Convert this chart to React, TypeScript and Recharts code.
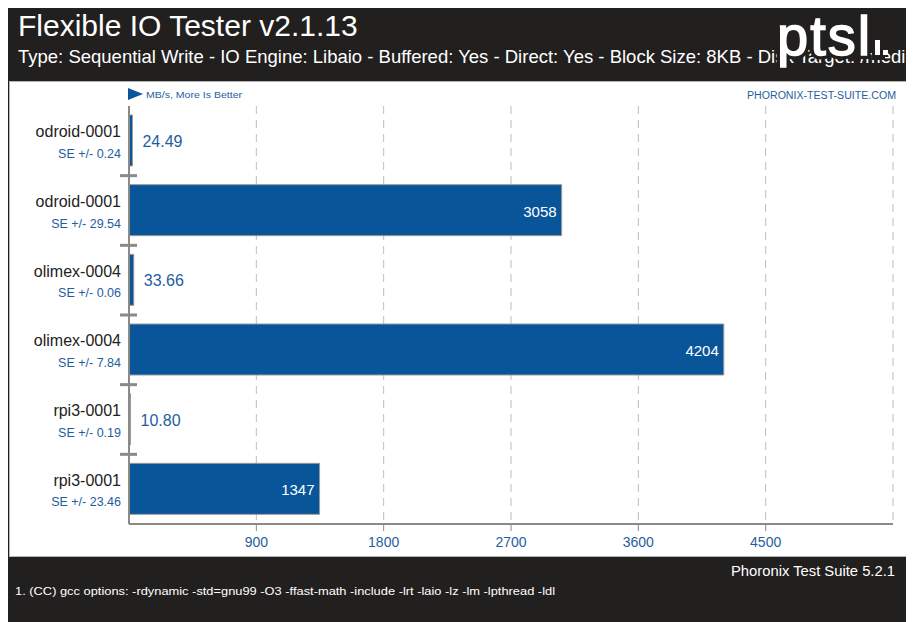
import { Bar, BarChart, CartesianGrid, LabelList, XAxis, YAxis } from "recharts"

const systems = ["odroid-0001", "odroid-0001", "olimex-0004", "olimex-0004", "rpi3-0001", "rpi3-0001"]
const results = [24.49, 3058, 33.66, 4204, 10.8, 1347]
const resultLabels = ["24.49", "3058", "33.66", "4204", "10.80", "1347"]
const stdErrors = ["0.24", "29.54", "0.06", "7.84", "0.19", "23.46"]
const xTicks = [900, 1800, 2700, 3600, 4500]
const xMax = 5400

const data = systems.map((name, i) => ({ id: i, name, value: results[i], label: resultLabels[i], se: stdErrors[i] }))

const W = 906
const H = 614
const DARK = "#221f1f"
const BLUE = "#1f5e9e"
const BAR = "#08559a"
const AXIS = "#8a8a8a"
const ROW = 418 / systems.length

function SystemTick(props: any) {
  const { x, y, payload, index } = props
  const row = data[payload.value]
  return (
    <g>
      <text x={x} y={y - 9} textAnchor="end" dominantBaseline="central" fontSize={16} fill="#222">
        {row.name}
      </text>
      <text x={x} y={y + 13} textAnchor="end" dominantBaseline="central" fontSize={12.5} fill={BLUE}>
        SE +/- {row.se}
      </text>
      {index > 0 && (
        <line x1={x - 1} x2={x + 16} y1={y - ROW / 2} y2={y - ROW / 2} stroke={AXIS} strokeWidth={3} />
      )}
    </g>
  )
}

function ValueLabel(props: any) {
  const { x, y, width, height, value } = props
  const cy = y + height / 2
  if (width < 60) {
    return (
      <text x={x + width + 10} y={cy + 1} dominantBaseline="central" fontSize={16} fill={BLUE}>
        {value}
      </text>
    )
  }
  return (
    <text x={x + width - 5} y={cy + 1} textAnchor="end" dominantBaseline="central" fontSize={15} fill="#fff">
      {value}
    </text>
  )
}

export default function App() {
  return (
    <div
      style={{
        position: "relative",
        width: W,
        height: H,
        overflow: "hidden",
        fontFamily: "'Liberation Sans', Arial, sans-serif",
      }}
    >
      <svg width={W} height={H} style={{ position: "absolute", left: 0, top: 0 }}>
        <rect x={0} y={0} width={W} height={H} fill={DARK} />
        <rect x={1.5} y={73.5} width={903} height={475} fill="#fff" stroke="#b5b5b5" />
        <text x={10} y={28} fontSize={30} fill="#fff">
          Flexible IO Tester v2.1.13
        </text>
        <text x={10} y={55} fontSize={18.5} fill="#fff">
          Type: Sequential Write - IO Engine: Libaio - Buffered: Yes - Direct: Yes - Block Size: 8KB - Disk Target: /media
        </text>
        {/* logo */}
        <text x={769} y={47} fontSize={56} letterSpacing={2} fill="none" stroke={DARK} strokeWidth={8}>
          ptsl
        </text>
        <rect x={864} y={29} width={13} height={23} fill={DARK} />
        <text x={769} y={47} fontSize={56} letterSpacing={2} fill="#fff" stroke="#fff" strokeWidth={1.5}>
          ptsl
        </text>
        <rect x={867} y={32} width={5} height={15} fill="#fff" />
        <rect x={875} y={42} width={5} height={5} fill="#fff" />

        <polygon points="120,80 135,86 120,92" fill={BAR} />
        <text x={138} y={86} dominantBaseline="central" fontSize={9.5} fill={BLUE} textLength={96} lengthAdjust="spacingAndGlyphs">
          MB/s, More Is Better
        </text>
        <text x={739} y={87} dominantBaseline="central" fontSize={10} fill={BLUE} textLength={149} lengthAdjust="spacingAndGlyphs">
          PHORONIX-TEST-SUITE.COM
        </text>

        <text x={723} y={568} fontSize={14} fill="#fff" textLength={164} lengthAdjust="spacingAndGlyphs">
          Phoronix Test Suite 5.2.1
        </text>
        <text x={7} y={587} fontSize={11.5} fill="#fff" textLength={540} lengthAdjust="spacingAndGlyphs">
          1. (CC) gcc options: -rdynamic -std=gnu99 -O3 -ffast-math -include -lrt -laio -lz -lm -lpthread -ldl
        </text>
      </svg>

      <div style={{ position: "absolute", left: 0, top: 0 }}>
        <BarChart
          width={W}
          height={H}
          data={data}
          layout="vertical"
          margin={{ top: 98, right: 21, left: 0, bottom: 68 }}
        >
          <CartesianGrid horizontal={false} stroke="#bdbdbd" strokeDasharray="8 6" />
          <XAxis
            type="number"
            domain={[0, xMax]}
            ticks={xTicks}
            height={30}
            axisLine={{ stroke: AXIS, strokeWidth: 2 }}
            tickLine={{ stroke: AXIS }}
            tickSize={7}
            tickMargin={6}
            tick={{ fill: BLUE, fontSize: 14 }}
          />
          <YAxis
            type="category"
            dataKey="id"
            width={121}
            axisLine={{ stroke: AXIS, strokeWidth: 2 }}
            tickLine={false}
            tick={<SystemTick />}
            interval={0}
          />
          <Bar dataKey="value" fill={BAR} stroke="#9a9a9a" strokeWidth={1} barSize={51} isAnimationActive={false}>
            <LabelList dataKey="label" content={<ValueLabel />} />
          </Bar>
        </BarChart>
      </div>
    </div>
  )
}
